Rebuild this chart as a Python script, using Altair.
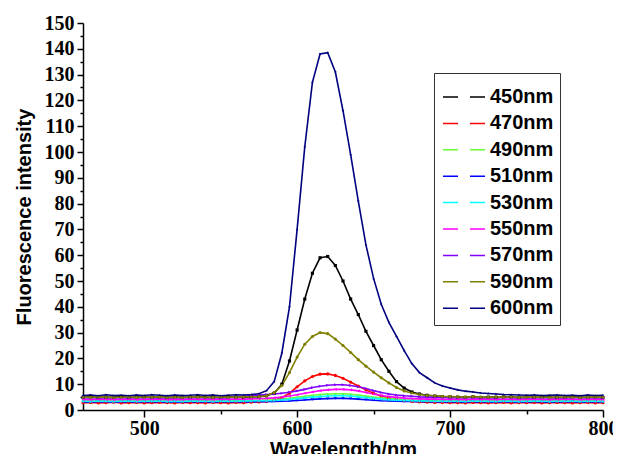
import altair as alt
import pandas as pd

wavelengths = list(range(460, 805, 5))

series_names = ["450nm", "470nm", "490nm", "510nm", "530nm", "550nm", "570nm", "590nm", "600nm"]
colors = ["#000000", "#ff0000", "#66ff33", "#0000ff", "#00ffff", "#ff00ff", "#7f00ff", "#808000", "#000080"]
star = "M0,-1L0.22,-0.3L0.95,-0.3L0.36,0.12L0.59,0.81L0,0.38L-0.59,0.81L-0.36,0.12L-0.95,-0.3L-0.22,-0.3Z"
shapes = ["square", "circle", "triangle-up", "triangle-down", "diamond", "triangle-left", "triangle-right", "circle", star]

s450 = [4.9, 5.1, 4.8, 5.0, 4.9, 5.2, 4.8, 5.0, 5.1, 4.9, 5.0, 4.8, 5.1, 4.9, 5.0, 5.2, 4.9, 5.0, 4.8, 5.1, 5.0, 4.9, 5.1, 5.2,
        5.5, 6.5, 10, 19, 31, 43, 53, 59, 59.5, 56, 50, 43, 37, 30.5, 25, 19.5, 15, 11, 8.5, 7, 6.2, 5.7, 5.4, 5.2, 5.1,
        5.0, 4.9, 5.1, 4.8, 5.0, 4.9, 5.1, 5.0, 4.8, 5.0, 4.9, 5.1, 5.0, 4.8, 4.9, 5.1, 5.0, 4.9, 5.0, 4.8]
s470 = [2.8, 2.9, 2.7, 2.8, 3.0, 2.7, 2.8, 2.9, 2.7, 2.8, 2.9, 2.8, 2.7, 2.9, 2.8, 2.8, 2.7, 2.9, 2.8, 2.7, 2.9, 2.8, 3.0, 3.1,
        3.3, 3.8, 4.8, 6.5, 9, 11.3, 13, 13.9, 14, 13.4, 12.3, 10.8, 9.3, 7.8, 6.5, 5.4, 4.6, 4.0, 3.6, 3.3, 3.1, 3.0, 2.9, 2.9, 2.8,
        2.8, 2.7, 2.9, 2.8, 2.7, 2.8, 2.9, 2.7, 2.8, 2.8, 2.9, 2.7, 2.8, 2.9, 2.8, 2.7, 2.8, 2.9, 2.7, 2.8]
s490 = [3.6, 3.5, 3.7, 3.6, 3.5, 3.6, 3.7, 3.5, 3.6, 3.6, 3.7, 3.5, 3.6, 3.5, 3.7, 3.6, 3.6, 3.5, 3.7, 3.6, 3.6, 3.7, 3.7, 3.8,
        3.9, 4.0, 4.2, 4.5, 4.9, 5.3, 5.7, 6.0, 6.2, 6.3, 6.3, 6.1, 5.8, 5.4, 5.0, 4.7, 4.4, 4.2, 4.0, 3.9, 3.8, 3.7, 3.7, 3.6, 3.6,
        3.6, 3.5, 3.7, 3.6, 3.6, 3.5, 3.7, 3.6, 3.5, 3.6, 3.7, 3.6, 3.5, 3.6, 3.6, 3.7, 3.5, 3.6, 3.6, 3.5]
s510 = [3.1, 3.0, 3.2, 3.1, 3.0, 3.1, 3.2, 3.0, 3.1, 3.1, 3.2, 3.0, 3.1, 3.0, 3.2, 3.1, 3.1, 3.0, 3.2, 3.1, 3.1, 3.2, 3.1, 3.2,
        3.2, 3.3, 3.4, 3.5, 3.7, 3.9, 4.1, 4.3, 4.4, 4.5, 4.5, 4.4, 4.2, 4.0, 3.8, 3.6, 3.5, 3.4, 3.3, 3.3, 3.2, 3.2, 3.1, 3.1, 3.1,
        3.1, 3.0, 3.2, 3.1, 3.1, 3.0, 3.2, 3.1, 3.0, 3.1, 3.2, 3.1, 3.0, 3.1, 3.1, 3.2, 3.0, 3.1, 3.1, 3.0]
s530 = [3.4, 3.3, 3.5, 3.4, 3.3, 3.4, 3.5, 3.3, 3.4, 3.4, 3.5, 3.3, 3.4, 3.3, 3.5, 3.4, 3.4, 3.3, 3.5, 3.4, 3.4, 3.5, 3.5, 3.6,
        3.6, 3.7, 3.9, 4.1, 4.4, 4.7, 5.0, 5.2, 5.4, 5.5, 5.5, 5.4, 5.1, 4.8, 4.5, 4.2, 4.0, 3.8, 3.7, 3.6, 3.5, 3.5, 3.4, 3.4, 3.4,
        3.4, 3.3, 3.5, 3.4, 3.4, 3.3, 3.5, 3.4, 3.3, 3.4, 3.5, 3.4, 3.3, 3.4, 3.4, 3.5, 3.3, 3.4, 3.4, 3.3]
s550 = [4.1, 4.0, 4.2, 4.1, 4.0, 4.1, 4.2, 4.0, 4.1, 4.1, 4.2, 4.0, 4.1, 4.0, 4.2, 4.1, 4.1, 4.0, 4.2, 4.1, 4.2, 4.2, 4.3, 4.4,
        4.5, 4.7, 5.0, 5.4, 5.9, 6.5, 7.0, 7.5, 7.8, 8.0, 8.0, 7.8, 7.4, 6.8, 6.2, 5.6, 5.2, 4.9, 4.6, 4.4, 4.3, 4.2, 4.2, 4.1, 4.1,
        4.1, 4.0, 4.2, 4.1, 4.1, 4.0, 4.2, 4.1, 4.0, 4.1, 4.2, 4.1, 4.0, 4.1, 4.1, 4.2, 4.0, 4.1, 4.1, 4.0]
s570 = [4.8, 4.7, 4.9, 4.8, 4.7, 4.8, 4.9, 4.7, 4.8, 4.8, 4.9, 4.7, 4.8, 4.7, 4.9, 4.8, 4.8, 4.7, 4.9, 4.8, 5.0, 5.3, 5.6, 5.8,
        6.0, 6.2, 6.5, 6.9, 7.4, 8.0, 8.7, 9.2, 9.6, 9.8, 9.8, 9.5, 9.0, 8.3, 7.5, 6.8, 6.2, 5.8, 5.5, 5.3, 5.1, 5.0, 4.9, 4.9, 4.8,
        4.8, 4.7, 4.9, 4.8, 4.8, 4.7, 4.9, 4.8, 4.7, 4.8, 4.9, 4.8, 4.7, 4.8, 4.8, 4.9, 4.7, 4.8, 4.8, 4.7]
s590 = [5.0, 4.9, 5.1, 5.0, 4.9, 5.0, 5.1, 4.9, 5.0, 5.0, 5.1, 4.9, 5.0, 4.9, 5.1, 5.0, 5.0, 4.9, 5.1, 5.0, 5.0, 5.1, 5.1, 5.2,
        5.5, 6.8, 9.5, 14.5, 20.5, 25.5, 28.5, 30, 29.6, 27.5, 25, 22.3, 19.5, 17, 14.7, 12.5, 10.5, 8.7, 7.4, 6.6, 6.0, 5.7, 5.5, 5.3, 5.2,
        5.1, 5.0, 5.2, 5.1, 5.0, 5.1, 5.0, 5.1, 4.9, 5.0, 5.1, 5.0, 4.9, 5.0, 5.1, 5.0, 4.9, 5.0, 5.1, 5.0]
s600 = [5.6, 5.8, 5.5, 5.9, 5.6, 5.7, 5.5, 5.8, 5.6, 5.9, 5.7, 5.5, 5.8, 5.6, 5.7, 5.9, 5.6, 5.8, 5.5, 5.7, 5.9, 5.8, 6.0, 6.3,
        7.5, 11, 22, 40, 70, 102, 127, 138, 138.5, 131, 116, 99, 81, 64, 51, 41, 34, 28.5, 23, 18, 14.5, 12.5, 10.5, 9.3, 8.5,
        7.8, 7.3, 7.0, 6.6, 6.4, 6.2, 6.0, 5.9, 5.8, 5.7, 5.8, 5.6, 5.7, 5.8, 5.6, 5.7, 5.5, 5.8, 5.6, 5.7]

series_values = [s450, s470, s490, s510, s530, s550, s570, s590, s600]

rows = []
for name, vals in zip(series_names, series_values):
    for w, v in zip(wavelengths, vals):
        rows.append({"Wavelength": w, "Intensity": v, "Series": name})
df = pd.DataFrame(rows)

x_ticks = [500, 550, 600, 650, 700, 750, 800]
y_ticks = list(range(0, 155, 5))

x_axis = alt.Axis(
    values=x_ticks, format="d", title="Wavelength/nm",
    labelExpr="datum.value % 100 === 0 ? datum.label : ''",
    tickSize={"condition": {"test": "datum.value % 100 === 0", "value": 7}, "value": 4},
    labelFont="Liberation Serif", labelFontWeight="bold", labelFontSize=20, labelColor="black",
    labelPadding=1, titleFont="Liberation Sans", titleFontWeight="bold", titleFontSize=20,
    titleColor="black", titleBaseline="alphabetic", titleY=45,
    domainColor="black", domainWidth=1.5,
    tickColor="black", tickWidth=1.5, grid=False, labelFlush=False, labelOverlap=False,
)
y_axis = alt.Axis(
    values=y_ticks, format="d", title="Fluorescence intensity",
    labelExpr="datum.value % 10 === 0 ? datum.label : ''",
    tickSize={"condition": {"test": "datum.value % 10 === 0", "value": 6}, "value": 3},
    labelFont="Liberation Serif", labelFontWeight="bold", labelFontSize=20, labelColor="black",
    labelPadding=3, titleFont="Liberation Sans", titleFontWeight="bold", titleFontSize=20,
    titleColor="black", titlePadding=10, domainColor="black", domainWidth=1.5,
    tickColor="black", tickWidth=1.5, grid=False, labelOverlap=False, labelFlush=False,
)

x_enc = alt.X("Wavelength:Q", scale=alt.Scale(domain=[460, 800], nice=False, zero=False), axis=x_axis)
y_enc = alt.Y("Intensity:Q", scale=alt.Scale(domain=[0, 150], nice=False), axis=y_axis)

color_scale = alt.Scale(domain=series_names, range=colors)

lines = alt.Chart(df).mark_line(strokeWidth=1.6).encode(
    x=x_enc, y=y_enc,
    color=alt.Color(
        "Series:N", scale=color_scale, sort=series_names,
        legend=alt.Legend(
            title=" ", titleFontSize=6, titlePadding=2,
            orient="none", legendX=351, legendY=50,
            symbolType="M-3,0H3", symbolSize=196, symbolStrokeWidth=1.5, symbolDash=[15, 12],
            symbolOffset=14,
            labelFont="Liberation Sans", labelFontWeight="bold", labelFontSize=20, labelColor="black",
            labelOffset=16, rowPadding=6.4, padding=6, strokeColor="#333333", fillColor="white",
        ),
    ),
    detail="Series:N",
)

point_layers = []
for name, col, shp in zip(series_names, colors, shapes):
    point_layers.append(
        alt.Chart(df[df["Series"] == name]).mark_point(
            filled=True, size=10, opacity=1, color=col, shape=shp
        ).encode(x=x_enc, y=y_enc)
    )

chart = alt.layer(lines, *point_layers).properties(
    width=520, height=387,
    autosize=alt.AutoSizeParams(type="none"),
    padding={"left": 75, "top": 15, "right": 10, "bottom": 44},
    background="white",
).configure_view(stroke=None)

chart.save("out.html", embed_options={"renderer": "svg", "actions": False})
